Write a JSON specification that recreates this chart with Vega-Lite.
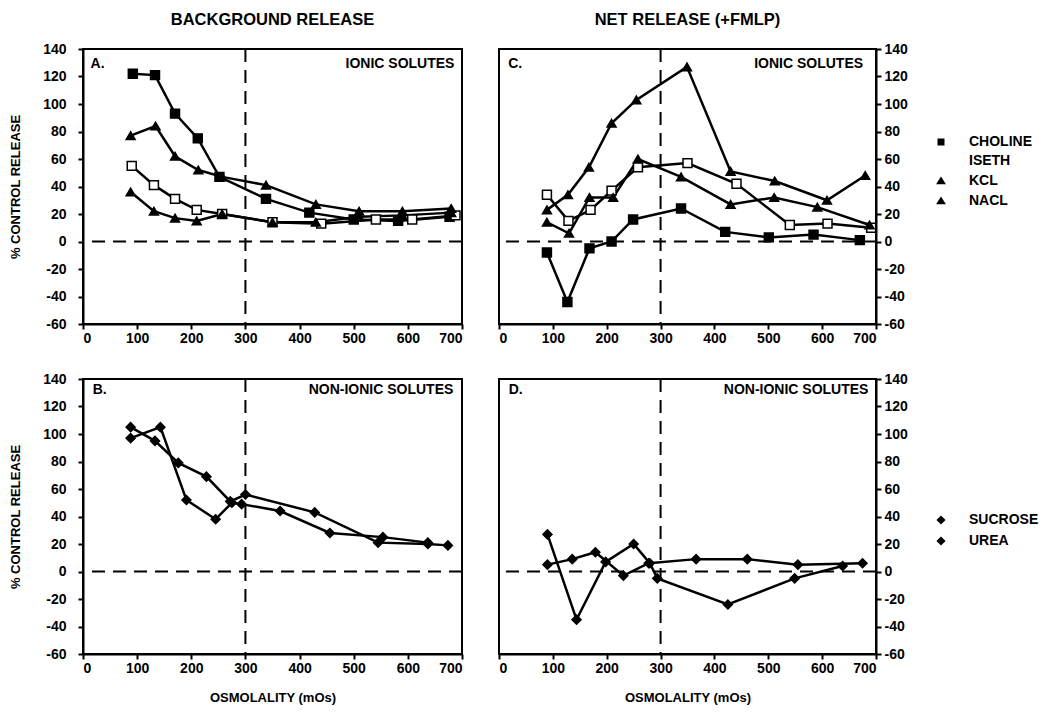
{
  "$schema": "https://vega.github.io/schema/vega-lite/v6.json",
  "padding": {"left": 8, "top": 10, "right": 0, "bottom": 0},
  "background": "white",
  "config": {
    "view": {"stroke": "black", "strokeWidth": 2},
    "font": "Liberation Sans",
    "axis": {"domainColor": "black", "domainWidth": 2, "tickColor": "black", "tickWidth": 2, "tickSize": 5, "labelFont": "Liberation Sans", "labelFontSize": 14, "labelFontWeight": "bold", "labelColor": "black", "labelOverlap": false, "grid": false, "titleFont": "Liberation Sans", "titleFontSize": 13, "titleFontWeight": "bold", "titleColor": "black", "labelPadding": 3},
    "axisX": {"labelPadding": 2},
    "title": {"font": "Liberation Sans", "fontSize": 16.5, "fontWeight": "bold", "color": "black", "anchor": "middle", "offset": 14}
  },
  "data": {"values": [
    {"panel": "A", "series": "CHOLINE", "osm": 92, "pct": 122},
    {"panel": "A", "series": "CHOLINE", "osm": 133, "pct": 121},
    {"panel": "A", "series": "CHOLINE", "osm": 170, "pct": 93},
    {"panel": "A", "series": "CHOLINE", "osm": 212, "pct": 75},
    {"panel": "A", "series": "CHOLINE", "osm": 252, "pct": 47},
    {"panel": "A", "series": "CHOLINE", "osm": 338, "pct": 31},
    {"panel": "A", "series": "CHOLINE", "osm": 418, "pct": 21},
    {"panel": "A", "series": "CHOLINE", "osm": 500, "pct": 16},
    {"panel": "A", "series": "CHOLINE", "osm": 582, "pct": 15},
    {"panel": "A", "series": "CHOLINE", "osm": 677, "pct": 18},
    {"panel": "A", "series": "ISETH", "osm": 90, "pct": 55},
    {"panel": "A", "series": "ISETH", "osm": 131, "pct": 41},
    {"panel": "A", "series": "ISETH", "osm": 170, "pct": 31},
    {"panel": "A", "series": "ISETH", "osm": 210, "pct": 23},
    {"panel": "A", "series": "ISETH", "osm": 257, "pct": 20},
    {"panel": "A", "series": "ISETH", "osm": 350, "pct": 14},
    {"panel": "A", "series": "ISETH", "osm": 440, "pct": 13},
    {"panel": "A", "series": "ISETH", "osm": 541, "pct": 16},
    {"panel": "A", "series": "ISETH", "osm": 608, "pct": 16},
    {"panel": "A", "series": "ISETH", "osm": 688, "pct": 19},
    {"panel": "A", "series": "KCL", "osm": 88, "pct": 77},
    {"panel": "A", "series": "KCL", "osm": 134, "pct": 84},
    {"panel": "A", "series": "KCL", "osm": 170, "pct": 62},
    {"panel": "A", "series": "KCL", "osm": 213, "pct": 52},
    {"panel": "A", "series": "KCL", "osm": 257, "pct": 47},
    {"panel": "A", "series": "KCL", "osm": 338, "pct": 41},
    {"panel": "A", "series": "KCL", "osm": 430, "pct": 27},
    {"panel": "A", "series": "KCL", "osm": 510, "pct": 22},
    {"panel": "A", "series": "KCL", "osm": 590, "pct": 22},
    {"panel": "A", "series": "KCL", "osm": 680, "pct": 24},
    {"panel": "A", "series": "NACL", "osm": 88, "pct": 36},
    {"panel": "A", "series": "NACL", "osm": 131, "pct": 22},
    {"panel": "A", "series": "NACL", "osm": 170, "pct": 17},
    {"panel": "A", "series": "NACL", "osm": 210, "pct": 15},
    {"panel": "A", "series": "NACL", "osm": 257, "pct": 20},
    {"panel": "A", "series": "NACL", "osm": 350, "pct": 14},
    {"panel": "A", "series": "NACL", "osm": 430, "pct": 14},
    {"panel": "A", "series": "NACL", "osm": 510, "pct": 18},
    {"panel": "A", "series": "NACL", "osm": 590, "pct": 19},
    {"panel": "A", "series": "NACL", "osm": 680, "pct": 21},
    {"panel": "C", "series": "CHOLINE", "osm": 89, "pct": -8},
    {"panel": "C", "series": "CHOLINE", "osm": 127, "pct": -44},
    {"panel": "C", "series": "CHOLINE", "osm": 168, "pct": -5},
    {"panel": "C", "series": "CHOLINE", "osm": 209, "pct": 0},
    {"panel": "C", "series": "CHOLINE", "osm": 249, "pct": 16},
    {"panel": "C", "series": "CHOLINE", "osm": 338, "pct": 24},
    {"panel": "C", "series": "CHOLINE", "osm": 420, "pct": 7},
    {"panel": "C", "series": "CHOLINE", "osm": 501, "pct": 3},
    {"panel": "C", "series": "CHOLINE", "osm": 584, "pct": 5},
    {"panel": "C", "series": "CHOLINE", "osm": 670, "pct": 1},
    {"panel": "C", "series": "ISETH", "osm": 89, "pct": 34},
    {"panel": "C", "series": "ISETH", "osm": 129, "pct": 15},
    {"panel": "C", "series": "ISETH", "osm": 170, "pct": 23},
    {"panel": "C", "series": "ISETH", "osm": 209, "pct": 37},
    {"panel": "C", "series": "ISETH", "osm": 258, "pct": 54},
    {"panel": "C", "series": "ISETH", "osm": 350, "pct": 57},
    {"panel": "C", "series": "ISETH", "osm": 441, "pct": 42},
    {"panel": "C", "series": "ISETH", "osm": 540, "pct": 12},
    {"panel": "C", "series": "ISETH", "osm": 610, "pct": 13},
    {"panel": "C", "series": "ISETH", "osm": 691, "pct": 10},
    {"panel": "C", "series": "KCL", "osm": 89, "pct": 23},
    {"panel": "C", "series": "KCL", "osm": 128, "pct": 34},
    {"panel": "C", "series": "KCL", "osm": 167, "pct": 54},
    {"panel": "C", "series": "KCL", "osm": 209, "pct": 86},
    {"panel": "C", "series": "KCL", "osm": 255, "pct": 103},
    {"panel": "C", "series": "KCL", "osm": 349, "pct": 127},
    {"panel": "C", "series": "KCL", "osm": 430, "pct": 51},
    {"panel": "C", "series": "KCL", "osm": 512, "pct": 44},
    {"panel": "C", "series": "KCL", "osm": 609, "pct": 30},
    {"panel": "C", "series": "KCL", "osm": 680, "pct": 48},
    {"panel": "C", "series": "NACL", "osm": 89, "pct": 14},
    {"panel": "C", "series": "NACL", "osm": 130, "pct": 6},
    {"panel": "C", "series": "NACL", "osm": 168, "pct": 32},
    {"panel": "C", "series": "NACL", "osm": 212, "pct": 32},
    {"panel": "C", "series": "NACL", "osm": 258, "pct": 60},
    {"panel": "C", "series": "NACL", "osm": 338, "pct": 47},
    {"panel": "C", "series": "NACL", "osm": 430, "pct": 27},
    {"panel": "C", "series": "NACL", "osm": 511, "pct": 32},
    {"panel": "C", "series": "NACL", "osm": 591, "pct": 25},
    {"panel": "C", "series": "NACL", "osm": 688, "pct": 12},
    {"panel": "B", "series": "SUCROSE", "osm": 88, "pct": 105},
    {"panel": "B", "series": "SUCROSE", "osm": 133, "pct": 95},
    {"panel": "B", "series": "SUCROSE", "osm": 176, "pct": 79},
    {"panel": "B", "series": "SUCROSE", "osm": 228, "pct": 69},
    {"panel": "B", "series": "SUCROSE", "osm": 272, "pct": 51},
    {"panel": "B", "series": "SUCROSE", "osm": 300, "pct": 56},
    {"panel": "B", "series": "SUCROSE", "osm": 428, "pct": 43},
    {"panel": "B", "series": "SUCROSE", "osm": 545, "pct": 21},
    {"panel": "B", "series": "SUCROSE", "osm": 637, "pct": 20},
    {"panel": "B", "series": "SUCROSE", "osm": 674, "pct": 19},
    {"panel": "B", "series": "UREA", "osm": 88, "pct": 97},
    {"panel": "B", "series": "UREA", "osm": 143, "pct": 105},
    {"panel": "B", "series": "UREA", "osm": 191, "pct": 52},
    {"panel": "B", "series": "UREA", "osm": 245, "pct": 38},
    {"panel": "B", "series": "UREA", "osm": 275, "pct": 50},
    {"panel": "B", "series": "UREA", "osm": 293, "pct": 49},
    {"panel": "B", "series": "UREA", "osm": 364, "pct": 44},
    {"panel": "B", "series": "UREA", "osm": 456, "pct": 28},
    {"panel": "B", "series": "UREA", "osm": 554, "pct": 25},
    {"panel": "B", "series": "UREA", "osm": 637, "pct": 21},
    {"panel": "D", "series": "SUCROSE", "osm": 90, "pct": 27},
    {"panel": "D", "series": "SUCROSE", "osm": 144, "pct": -35},
    {"panel": "D", "series": "SUCROSE", "osm": 198, "pct": 7},
    {"panel": "D", "series": "SUCROSE", "osm": 250, "pct": 20},
    {"panel": "D", "series": "SUCROSE", "osm": 280, "pct": 6},
    {"panel": "D", "series": "SUCROSE", "osm": 294, "pct": -5},
    {"panel": "D", "series": "SUCROSE", "osm": 425, "pct": -24},
    {"panel": "D", "series": "SUCROSE", "osm": 549, "pct": -5},
    {"panel": "D", "series": "SUCROSE", "osm": 638, "pct": 4},
    {"panel": "D", "series": "UREA", "osm": 90, "pct": 5},
    {"panel": "D", "series": "UREA", "osm": 136, "pct": 9},
    {"panel": "D", "series": "UREA", "osm": 179, "pct": 14},
    {"panel": "D", "series": "UREA", "osm": 231, "pct": -3},
    {"panel": "D", "series": "UREA", "osm": 278, "pct": 6},
    {"panel": "D", "series": "UREA", "osm": 366, "pct": 9},
    {"panel": "D", "series": "UREA", "osm": 461, "pct": 9},
    {"panel": "D", "series": "UREA", "osm": 555, "pct": 5},
    {"panel": "D", "series": "UREA", "osm": 675, "pct": 6}
  ]},
  "spacing": 25,
  "resolve": {"scale": {"x": "independent", "y": "independent", "shape": "independent", "fill": "independent", "color": "independent"}, "legend": {"shape": "independent", "fill": "independent", "color": "independent"}},
  "vconcat": [
    {
      "spacing": 33,
      "resolve": {"scale": {"x": "independent", "y": "independent", "shape": "independent", "fill": "independent", "color": "independent"}, "legend": {"shape": "independent", "fill": "independent", "color": "independent"}},
      "hconcat": [
        {
          "width": 379, "height": 275,
          "title": {"text": "BACKGROUND RELEASE"},
          "layer": [
            {"data": {"values": [{}]}, "mark": {"type": "rule", "color": "black", "strokeWidth": 2, "strokeDash": [13, 8]},
             "encoding": {"y": {"datum": 0, "type": "quantitative", "scale": {"domain": [-60, 140], "nice": false, "zero": false}, "axis": {"orient": "left", "values": [-60, -40, -20, 0, 20, 40, 60, 80, 100, 120, 140], "tickCount": 11, "labelExpr": "datum.value + ''", "labelPadding": 12, "title": "% CONTROL RELEASE", "titlePadding": 20}}}},
            {"data": {"values": [{}]}, "mark": {"type": "rule", "color": "black", "strokeWidth": 2, "strokeDash": [13, 8]},
             "encoding": {"x": {"datum": 300, "type": "quantitative", "scale": {"domain": [0, 700], "nice": false, "zero": false}, "axis": {"values": [0, 100, 200, 300, 400, 500, 600, 700], "tickCount": 8, "title": null}}}},
            {"transform": [{"filter": "datum.panel === 'A'"}], "mark": {"type": "line", "color": "black", "strokeWidth": 2.5},
             "encoding": {
               "x": {"field": "osm", "type": "quantitative", "scale": {"domain": [0, 700], "nice": false, "zero": false}, "axis": {"values": [0, 100, 200, 300, 400, 500, 600, 700], "tickCount": 8, "title": null}},
               "y": {"field": "pct", "type": "quantitative", "scale": {"domain": [-60, 140], "nice": false, "zero": false}, "axis": {"orient": "left", "values": [-60, -40, -20, 0, 20, 40, 60, 80, 100, 120, 140], "tickCount": 11, "labelExpr": "datum.value + ''", "labelPadding": 12, "title": "% CONTROL RELEASE", "titlePadding": 20}},
               "detail": {"field": "series", "type": "nominal"}}},
            {"transform": [{"filter": "datum.panel === 'A'"}], "mark": {"type": "point", "filled": true, "opacity": 1, "stroke": "black", "strokeWidth": 1.5, "size": 80},
             "encoding": {
               "x": {"field": "osm", "type": "quantitative", "scale": {"domain": [0, 700], "nice": false, "zero": false}, "axis": {"values": [0, 100, 200, 300, 400, 500, 600, 700], "tickCount": 8, "title": null}},
               "y": {"field": "pct", "type": "quantitative", "scale": {"domain": [-60, 140], "nice": false, "zero": false}, "axis": {"orient": "left", "values": [-60, -40, -20, 0, 20, 40, 60, 80, 100, 120, 140], "tickCount": 11, "labelExpr": "datum.value + ''", "labelPadding": 12, "title": "% CONTROL RELEASE", "titlePadding": 20}},
               "shape": {"field": "series", "type": "nominal", "scale": {"domain": ["CHOLINE", "ISETH", "KCL", "NACL"], "range": ["square", "square", "triangle-up", "triangle-up"]}, "legend": null},
               "fill": {"field": "series", "type": "nominal", "scale": {"domain": ["CHOLINE", "ISETH", "KCL", "NACL"], "range": ["black", "white", "black", "black"]}, "legend": null}}},
            {"data": {"values": [{}]}, "mark": {"type": "text", "align": "left", "baseline": "middle", "font": "Liberation Sans", "fontSize": 14, "fontWeight": "bold", "color": "black"},
             "encoding": {"x": {"datum": 14, "type": "quantitative"}, "y": {"datum": 129, "type": "quantitative"}, "text": {"value": "A."}}},
            {"data": {"values": [{}]}, "mark": {"type": "text", "align": "right", "baseline": "middle", "font": "Liberation Sans", "fontSize": 14, "fontWeight": "bold", "color": "black"},
             "encoding": {"x": {"datum": 686, "type": "quantitative"}, "y": {"datum": 129, "type": "quantitative"}, "text": {"value": "IONIC SOLUTES"}}}
          ]
        },
        {
          "width": 377, "height": 275,
          "title": {"text": "NET RELEASE (+FMLP)"},
          "resolve": {"scale": {"shape": "independent", "fill": "independent", "color": "independent"}, "legend": {"shape": "independent", "fill": "independent", "color": "independent"}},
          "layer": [
            {"data": {"values": [{}]}, "mark": {"type": "rule", "color": "black", "strokeWidth": 2, "strokeDash": [13, 8]},
             "encoding": {"y": {"datum": 0, "type": "quantitative", "scale": {"domain": [-60, 140], "nice": false, "zero": false}, "axis": {"orient": "right", "values": [-60, -40, -20, 0, 20, 40, 60, 80, 100, 120, 140], "tickCount": 11, "labelExpr": "datum.value + ''", "title": null}}}},
            {"data": {"values": [{}]}, "mark": {"type": "rule", "color": "black", "strokeWidth": 2, "strokeDash": [13, 8]},
             "encoding": {"x": {"datum": 300, "type": "quantitative", "scale": {"domain": [0, 700], "nice": false, "zero": false}, "axis": {"values": [0, 100, 200, 300, 400, 500, 600, 700], "tickCount": 8, "title": null}}}},
            {"transform": [{"filter": "datum.panel === 'C'"}], "mark": {"type": "line", "color": "black", "strokeWidth": 2.5},
             "encoding": {
               "x": {"field": "osm", "type": "quantitative", "scale": {"domain": [0, 700], "nice": false, "zero": false}, "axis": {"values": [0, 100, 200, 300, 400, 500, 600, 700], "tickCount": 8, "title": null}},
               "y": {"field": "pct", "type": "quantitative", "scale": {"domain": [-60, 140], "nice": false, "zero": false}, "axis": {"orient": "right", "values": [-60, -40, -20, 0, 20, 40, 60, 80, 100, 120, 140], "tickCount": 11, "labelExpr": "datum.value + ''", "title": null}},
               "detail": {"field": "series", "type": "nominal"}}},
            {"transform": [{"filter": "datum.panel === 'C'"}], "mark": {"type": "point", "filled": true, "opacity": 0, "stroke": "black", "strokeWidth": 2, "size": 49},
             "encoding": {
               "x": {"field": "osm", "type": "quantitative", "scale": {"domain": [0, 700], "nice": false, "zero": false}, "axis": {"values": [0, 100, 200, 300, 400, 500, 600, 700], "tickCount": 8, "title": null}},
               "y": {"field": "pct", "type": "quantitative", "scale": {"domain": [-60, 140], "nice": false, "zero": false}, "axis": {"orient": "right", "values": [-60, -40, -20, 0, 20, 40, 60, 80, 100, 120, 140], "tickCount": 11, "labelExpr": "datum.value + ''", "title": null}},
               "shape": {"field": "series", "type": "nominal", "scale": {"domain": ["CHOLINE", "ISETH", "KCL", "NACL"], "range": ["M-2.8,0H-1M1,0H2.8M-1,-1H1V1H-1Z", "M-2.8,0H-1M1,0H2.8M-1,-1H1V1H-1Z", "M-2.8,0.3H2.8M0,-1.3L1.4,0.9H-1.4Z", "M-2.8,0.3H2.8M0,-1.3L1.4,0.9H-1.4Z"]},
                 "legend": {"orient": "none", "legendX": 435, "legendY": 86, "title": null, "rowPadding": 3, "symbolSize": 49, "symbolOpacity": 1, "symbolStrokeColor": "black", "symbolStrokeWidth": 2, "labelFont": "Liberation Sans", "labelFontSize": 14, "labelFontWeight": "bold", "labelColor": "black", "labelOffset": 21}},
               "color": {"field": "series", "type": "nominal", "scale": {"domain": ["CHOLINE", "ISETH", "KCL", "NACL"], "range": ["black", "white", "black", "black"]},
                 "legend": {"orient": "none", "legendX": 435, "legendY": 86, "title": null, "rowPadding": 3, "symbolSize": 49, "symbolOpacity": 1, "symbolStrokeColor": "black", "symbolStrokeWidth": 2, "labelFont": "Liberation Sans", "labelFontSize": 14, "labelFontWeight": "bold", "labelColor": "black", "labelOffset": 21}}}},
            {"transform": [{"filter": "datum.panel === 'C'"}], "mark": {"type": "point", "filled": true, "opacity": 1, "stroke": "black", "strokeWidth": 1.5, "size": 80},
             "encoding": {
               "x": {"field": "osm", "type": "quantitative", "scale": {"domain": [0, 700], "nice": false, "zero": false}, "axis": {"values": [0, 100, 200, 300, 400, 500, 600, 700], "tickCount": 8, "title": null}},
               "y": {"field": "pct", "type": "quantitative", "scale": {"domain": [-60, 140], "nice": false, "zero": false}, "axis": {"orient": "right", "values": [-60, -40, -20, 0, 20, 40, 60, 80, 100, 120, 140], "tickCount": 11, "labelExpr": "datum.value + ''", "title": null}},
               "shape": {"field": "series", "type": "nominal", "scale": {"domain": ["CHOLINE", "ISETH", "KCL", "NACL"], "range": ["square", "square", "triangle-up", "triangle-up"]}, "legend": null},
               "fill": {"field": "series", "type": "nominal", "scale": {"domain": ["CHOLINE", "ISETH", "KCL", "NACL"], "range": ["black", "white", "black", "black"]}, "legend": null}}},
            {"data": {"values": [{}]}, "mark": {"type": "text", "align": "left", "baseline": "middle", "font": "Liberation Sans", "fontSize": 14, "fontWeight": "bold", "color": "black"},
             "encoding": {"x": {"datum": 17, "type": "quantitative"}, "y": {"datum": 129, "type": "quantitative"}, "text": {"value": "C."}}},
            {"data": {"values": [{}]}, "mark": {"type": "text", "align": "right", "baseline": "middle", "font": "Liberation Sans", "fontSize": 14, "fontWeight": "bold", "color": "black"},
             "encoding": {"x": {"datum": 676, "type": "quantitative"}, "y": {"datum": 129, "type": "quantitative"}, "text": {"value": "IONIC SOLUTES"}}}
          ]
        }
      ]
    },
    {
      "spacing": 33,
      "resolve": {"scale": {"x": "independent", "y": "independent", "shape": "independent", "fill": "independent", "color": "independent"}, "legend": {"shape": "independent", "fill": "independent", "color": "independent"}},
      "hconcat": [
        {
          "width": 379, "height": 275,
          "layer": [
            {"data": {"values": [{}]}, "mark": {"type": "rule", "color": "black", "strokeWidth": 2, "strokeDash": [13, 8]},
             "encoding": {"y": {"datum": 0, "type": "quantitative", "scale": {"domain": [-60, 140], "nice": false, "zero": false}, "axis": {"orient": "left", "values": [-60, -40, -20, 0, 20, 40, 60, 80, 100, 120, 140], "tickCount": 11, "labelExpr": "datum.value + ''", "labelPadding": 12, "title": "% CONTROL RELEASE", "titlePadding": 20}}}},
            {"data": {"values": [{}]}, "mark": {"type": "rule", "color": "black", "strokeWidth": 2, "strokeDash": [13, 8]},
             "encoding": {"x": {"datum": 300, "type": "quantitative", "scale": {"domain": [0, 700], "nice": false, "zero": false}, "axis": {"values": [0, 100, 200, 300, 400, 500, 600, 700], "tickCount": 8, "title": "OSMOLALITY (mOs)", "titlePadding": 16}}}},
            {"transform": [{"filter": "datum.panel === 'B'"}], "mark": {"type": "line", "color": "black", "strokeWidth": 2.5},
             "encoding": {
               "x": {"field": "osm", "type": "quantitative", "scale": {"domain": [0, 700], "nice": false, "zero": false}, "axis": {"values": [0, 100, 200, 300, 400, 500, 600, 700], "tickCount": 8, "title": "OSMOLALITY (mOs)", "titlePadding": 16}},
               "y": {"field": "pct", "type": "quantitative", "scale": {"domain": [-60, 140], "nice": false, "zero": false}, "axis": {"orient": "left", "values": [-60, -40, -20, 0, 20, 40, 60, 80, 100, 120, 140], "tickCount": 11, "labelExpr": "datum.value + ''", "labelPadding": 12, "title": "% CONTROL RELEASE", "titlePadding": 20}},
               "detail": {"field": "series", "type": "nominal"}}},
            {"transform": [{"filter": "datum.panel === 'B'"}], "mark": {"type": "point", "filled": true, "opacity": 1, "stroke": "black", "strokeWidth": 1.5, "size": 80},
             "encoding": {
               "x": {"field": "osm", "type": "quantitative", "scale": {"domain": [0, 700], "nice": false, "zero": false}, "axis": {"values": [0, 100, 200, 300, 400, 500, 600, 700], "tickCount": 8, "title": "OSMOLALITY (mOs)", "titlePadding": 16}},
               "y": {"field": "pct", "type": "quantitative", "scale": {"domain": [-60, 140], "nice": false, "zero": false}, "axis": {"orient": "left", "values": [-60, -40, -20, 0, 20, 40, 60, 80, 100, 120, 140], "tickCount": 11, "labelExpr": "datum.value + ''", "labelPadding": 12, "title": "% CONTROL RELEASE", "titlePadding": 20}},
               "shape": {"field": "series", "type": "nominal", "scale": {"domain": ["SUCROSE", "UREA"], "range": ["diamond", "diamond"]}, "legend": null},
               "fill": {"field": "series", "type": "nominal", "scale": {"domain": ["SUCROSE", "UREA"], "range": ["black", "black"]}, "legend": null}}},
            {"data": {"values": [{}]}, "mark": {"type": "text", "align": "left", "baseline": "middle", "font": "Liberation Sans", "fontSize": 14, "fontWeight": "bold", "color": "black"},
             "encoding": {"x": {"datum": 18, "type": "quantitative"}, "y": {"datum": 132, "type": "quantitative"}, "text": {"value": "B."}}},
            {"data": {"values": [{}]}, "mark": {"type": "text", "align": "right", "baseline": "middle", "font": "Liberation Sans", "fontSize": 14, "fontWeight": "bold", "color": "black"},
             "encoding": {"x": {"datum": 684, "type": "quantitative"}, "y": {"datum": 132, "type": "quantitative"}, "text": {"value": "NON-IONIC SOLUTES"}}}
          ]
        },
        {
          "width": 377, "height": 275,
          "resolve": {"scale": {"shape": "independent", "fill": "independent", "color": "independent"}, "legend": {"shape": "independent", "fill": "independent", "color": "independent"}},
          "layer": [
            {"data": {"values": [{}]}, "mark": {"type": "rule", "color": "black", "strokeWidth": 2, "strokeDash": [13, 8]},
             "encoding": {"y": {"datum": 0, "type": "quantitative", "scale": {"domain": [-60, 140], "nice": false, "zero": false}, "axis": {"orient": "right", "values": [-60, -40, -20, 0, 20, 40, 60, 80, 100, 120, 140], "tickCount": 11, "labelExpr": "datum.value + ''", "title": null}}}},
            {"data": {"values": [{}]}, "mark": {"type": "rule", "color": "black", "strokeWidth": 2, "strokeDash": [13, 8]},
             "encoding": {"x": {"datum": 300, "type": "quantitative", "scale": {"domain": [0, 700], "nice": false, "zero": false}, "axis": {"values": [0, 100, 200, 300, 400, 500, 600, 700], "tickCount": 8, "title": "OSMOLALITY (mOs)", "titlePadding": 16}}}},
            {"transform": [{"filter": "datum.panel === 'D'"}], "mark": {"type": "line", "color": "black", "strokeWidth": 2.5},
             "encoding": {
               "x": {"field": "osm", "type": "quantitative", "scale": {"domain": [0, 700], "nice": false, "zero": false}, "axis": {"values": [0, 100, 200, 300, 400, 500, 600, 700], "tickCount": 8, "title": "OSMOLALITY (mOs)", "titlePadding": 16}},
               "y": {"field": "pct", "type": "quantitative", "scale": {"domain": [-60, 140], "nice": false, "zero": false}, "axis": {"orient": "right", "values": [-60, -40, -20, 0, 20, 40, 60, 80, 100, 120, 140], "tickCount": 11, "labelExpr": "datum.value + ''", "title": null}},
               "detail": {"field": "series", "type": "nominal"}}},
            {"transform": [{"filter": "datum.panel === 'D'"}], "mark": {"type": "point", "filled": true, "opacity": 0, "stroke": "black", "strokeWidth": 2, "size": 49},
             "encoding": {
               "x": {"field": "osm", "type": "quantitative", "scale": {"domain": [0, 700], "nice": false, "zero": false}, "axis": {"values": [0, 100, 200, 300, 400, 500, 600, 700], "tickCount": 8, "title": "OSMOLALITY (mOs)", "titlePadding": 16}},
               "y": {"field": "pct", "type": "quantitative", "scale": {"domain": [-60, 140], "nice": false, "zero": false}, "axis": {"orient": "right", "values": [-60, -40, -20, 0, 20, 40, 60, 80, 100, 120, 140], "tickCount": 11, "labelExpr": "datum.value + ''", "title": null}},
               "shape": {"field": "series", "type": "nominal", "scale": {"domain": ["SUCROSE", "UREA"], "range": ["M-2.8,0H2.8M0,-1.3L1.3,0L0,1.3L-1.3,0Z", "M-2.8,0H2.8M0,-1.3L1.3,0L0,1.3L-1.3,0Z"]},
                 "legend": {"orient": "none", "legendX": 435, "legendY": 134, "title": null, "rowPadding": 3, "symbolSize": 49, "symbolOpacity": 1, "symbolStrokeColor": "black", "symbolStrokeWidth": 2, "labelFont": "Liberation Sans", "labelFontSize": 14, "labelFontWeight": "bold", "labelColor": "black", "labelOffset": 21}},
               "color": {"field": "series", "type": "nominal", "scale": {"domain": ["SUCROSE", "UREA"], "range": ["black", "black"]},
                 "legend": {"orient": "none", "legendX": 435, "legendY": 134, "title": null, "rowPadding": 3, "symbolSize": 49, "symbolOpacity": 1, "symbolStrokeColor": "black", "symbolStrokeWidth": 2, "labelFont": "Liberation Sans", "labelFontSize": 14, "labelFontWeight": "bold", "labelColor": "black", "labelOffset": 21}}}},
            {"transform": [{"filter": "datum.panel === 'D'"}], "mark": {"type": "point", "filled": true, "opacity": 1, "stroke": "black", "strokeWidth": 1.5, "size": 80},
             "encoding": {
               "x": {"field": "osm", "type": "quantitative", "scale": {"domain": [0, 700], "nice": false, "zero": false}, "axis": {"values": [0, 100, 200, 300, 400, 500, 600, 700], "tickCount": 8, "title": "OSMOLALITY (mOs)", "titlePadding": 16}},
               "y": {"field": "pct", "type": "quantitative", "scale": {"domain": [-60, 140], "nice": false, "zero": false}, "axis": {"orient": "right", "values": [-60, -40, -20, 0, 20, 40, 60, 80, 100, 120, 140], "tickCount": 11, "labelExpr": "datum.value + ''", "title": null}},
               "shape": {"field": "series", "type": "nominal", "scale": {"domain": ["SUCROSE", "UREA"], "range": ["diamond", "diamond"]}, "legend": null},
               "fill": {"field": "series", "type": "nominal", "scale": {"domain": ["SUCROSE", "UREA"], "range": ["black", "black"]}, "legend": null}}},
            {"data": {"values": [{}]}, "mark": {"type": "text", "align": "left", "baseline": "middle", "font": "Liberation Sans", "fontSize": 14, "fontWeight": "bold", "color": "black"},
             "encoding": {"x": {"datum": 18, "type": "quantitative"}, "y": {"datum": 132, "type": "quantitative"}, "text": {"value": "D."}}},
            {"data": {"values": [{}]}, "mark": {"type": "text", "align": "right", "baseline": "middle", "font": "Liberation Sans", "fontSize": 14, "fontWeight": "bold", "color": "black"},
             "encoding": {"x": {"datum": 686, "type": "quantitative"}, "y": {"datum": 132, "type": "quantitative"}, "text": {"value": "NON-IONIC SOLUTES"}}}
          ]
        }
      ]
    }
  ]
}
